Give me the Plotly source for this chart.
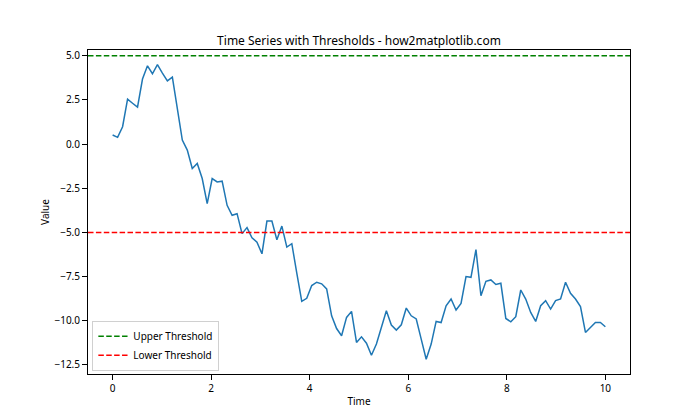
import numpy as np
import plotly.graph_objects as go

N_POINTS = 100
T_START, T_END = 0, 10
values = [
    0.51, 0.38, 0.98, 2.54, 2.31, 2.09, 3.68, 4.43, 3.98, 4.49,
    4.02, 3.58, 3.79, 2.03, 0.23, -0.34, -1.38, -1.10, -1.95, -3.37,
    -1.95, -2.14, -2.10, -3.47, -4.03, -3.94, -5.07, -4.73, -5.30, -5.55,
    -6.21, -4.36, -4.36, -5.42, -4.64, -5.83, -5.64, -7.30, -8.90, -8.73,
    -8.01, -7.82, -7.91, -8.20, -9.72, -10.44, -10.85, -9.81, -9.47, -11.23,
    -10.91, -11.27, -11.95, -11.32, -10.38, -9.43, -10.24, -10.53, -10.23, -9.28,
    -9.72, -9.90, -11.04, -12.18, -11.32, -10.04, -10.10, -9.15, -8.77, -9.39,
    -9.02, -7.50, -7.54, -5.97, -8.58, -7.77, -7.69, -7.95, -7.88, -9.87,
    -10.06, -9.77, -8.26, -8.77, -9.53, -10.04, -9.15, -8.86, -9.34, -8.86,
    -8.77, -7.82, -8.45, -8.77, -9.20, -10.66, -10.38, -10.10, -10.10, -10.34,
]
time = np.linspace(T_START, T_END, N_POINTS)
UPPER = 5
LOWER = -5
x_ticks = [0, 2, 4, 6, 8, 10]
y_ticks = [5.0, 2.5, 0.0, -2.5, -5.0, -7.5, -10.0, -12.5]

FONT = "Noto Sans"
DASH = "5.5px,2.4px"
LW = 1.5

fig = go.Figure()
fig.add_trace(go.Scatter(x=time, y=values, mode="lines",
                         line=dict(color="#1f77b4", width=LW),
                         showlegend=False, hoverinfo="skip"))
for val, col, name in [(UPPER, "green", "Upper Threshold"), (LOWER, "red", "Lower Threshold")]:
    fig.add_shape(type="line", xref="paper", x0=0, x1=1, yref="y", y0=val, y1=val,
                  line=dict(color=col, width=LW, dash=DASH), layer="above")
    fig.add_trace(go.Scatter(x=[None], y=[None], mode="lines", name=name,
                             line=dict(color=col, width=LW, dash=DASH)))

vmin, vmax = min(values), max(values)
pad = (vmax - vmin) * 0.05
xpad = (T_END - T_START) * 0.05

axis_common = dict(showline=True, linecolor="black", linewidth=1, mirror=True,
                   ticks="outside", ticklen=5, tickwidth=1, tickcolor="black",
                   showgrid=False, zeroline=False, automargin=False,
                   tickfont=dict(family=FONT, size=10, color="black"))

fig.update_layout(
    width=700, height=420,
    margin=dict(l=88, r=70, t=50, b=46, autoexpand=False),
    paper_bgcolor="white", plot_bgcolor="white",
    title=dict(text="Time Series with Thresholds - how2matplotlib.com",
               x=0.5, xref="paper", xanchor="center", y=1 - 45 / 420, yanchor="bottom",
               font=dict(family=FONT, size=12, color="black")),
    xaxis=dict(range=[T_START - xpad, T_END + xpad], tickvals=x_ticks,
               title=dict(text="Time", font=dict(family=FONT, size=10, color="black"), standoff=3),
               **axis_common),
    yaxis=dict(range=[vmin - pad, vmax + pad], tickvals=y_ticks, tickformat=".1f",
               title=dict(text="Value", font=dict(family=FONT, size=10, color="black"), standoff=2),
               **axis_common),
    legend=dict(x=0.008, y=0.01, xanchor="left", yanchor="bottom",
                bgcolor="white", bordercolor="#d0d0d0", borderwidth=1,
                font=dict(family=FONT, size=10, color="black"),
                tracegroupgap=0, itemwidth=30),
    font=dict(family=FONT),
)

fig.write_html("out.html", config={"displayModeBar": False},
               post_script="document.body.style.margin='0';")
